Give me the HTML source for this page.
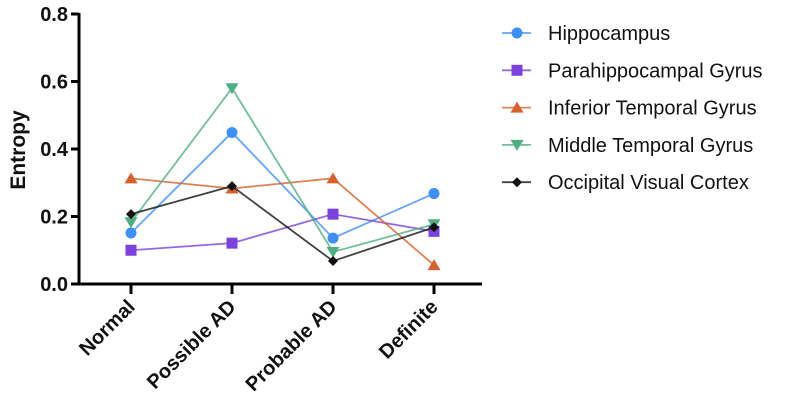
<!DOCTYPE html>
<html><head><meta charset="utf-8"><style>
body{margin:0;background:#fff;}
svg text{font-family:"Liberation Sans",Arial,sans-serif;}
</style></head><body>
<svg id="chart" width="786" height="404" viewBox="0 0 786 404"></svg>
<script>
const categories=["Normal","Possible AD","Probable AD","Definite"];
const yTicks=[0,0.2,0.4,0.6,0.8];
const seriesNames=["Hippocampus","Parahippocampal Gyrus","Inferior Temporal Gyrus","Middle Temporal Gyrus","Occipital Visual Cortex"];
const hippocampus=[0.151,0.449,0.136,0.268];
const parahippocampal=[0.100,0.121,0.207,0.156];
const inferiorTemporal=[0.313,0.283,0.313,0.056];
const middleTemporal=[0.183,0.580,0.095,0.177];
const occipitalVisual=[0.207,0.290,0.068,0.168];
const seriesValues=[hippocampus,parahippocampal,inferiorTemporal,middleTemporal,occipitalVisual];
const colors=["#3f8ff5","#7b42dc","#d5622c","#4fae82","#111111"];
const markers=["circle","square","up","down","diamond"];

const NS="http://www.w3.org/2000/svg";
const svg=document.getElementById("chart");
function mk(t,a,p){const e=document.createElementNS(NS,t);for(const k in a)e.setAttribute(k,a[k]);(p||svg).appendChild(e);return e;}
const x0=79,y0=284,yTop=14;
function yScale(v){return y0-(v/0.8)*(y0-yTop);}
function xScale(i){return 131+i*101;}

function marker(type,cx,cy,color,g){
  let e;
  if(type==="circle")e=mk("circle",{cx:cx,cy:cy,r:5.5,fill:color},g);
  else if(type==="square")e=mk("rect",{x:cx-5.5,y:cy-5.5,width:11,height:11,fill:color},g);
  else if(type==="up")e=mk("polygon",{points:`${cx},${cy-6} ${cx-6.5},${cy+5} ${cx+6.5},${cy+5}`,fill:color},g);
  else if(type==="down")e=mk("polygon",{points:`${cx},${cy+6} ${cx-6.5},${cy-5} ${cx+6.5},${cy-5}`,fill:color},g);
  else e=mk("polygon",{points:`${cx},${cy-5} ${cx+5},${cy} ${cx},${cy+5} ${cx-5},${cy}`,fill:color},g);
  return e;
}

const ax=mk("g",{});


const yl=mk("line",{x1:x0,y1:yTop-1,x2:x0,y2:y0+1.5,stroke:"#000","stroke-width":3},ax);


const xl=mk("line",{x1:x0-1.5,y1:y0,x2:482,y2:y0,stroke:"#000","stroke-width":3},ax);


yTicks.forEach(v=>{
  const y=yScale(v);
  const tk=mk("line",{x1:x0-8,y1:y,x2:x0,y2:y,stroke:"#000","stroke-width":3},ax);
  
  
  const t=mk("text",{x:x0-11,y:y+7,"text-anchor":"end","font-size":20,"font-weight":"bold",fill:"#111"},ax);
  t.textContent=v.toFixed(1);
  
  
});
categories.forEach((c,i)=>{
  const x=xScale(i);
  const tk=mk("line",{x1:x,y1:y0,x2:x,y2:y0+10,stroke:"#000","stroke-width":3},ax);
  
  
  const t=mk("text",{x:x+5,y:y0+24,"text-anchor":"end","font-size":20,"font-weight":"bold",fill:"#111",transform:`rotate(-45 ${x+5} ${y0+24})`},ax);
  t.textContent=c;
  
  
});
const yt=mk("text",{x:25,y:150,"text-anchor":"middle","font-size":21,"font-weight":"bold",fill:"#111",transform:"rotate(-90 25 150)"});
yt.textContent="Entropy";



seriesValues.forEach((vals,s)=>{
  const g=mk("g",{});
  
  
  const pl=mk("polyline",{points:vals.map((v,i)=>xScale(i)+","+yScale(v)).join(" "),fill:"none",stroke:colors[s],"stroke-width":1.8,"stroke-opacity":0.8},g);
  
  
  vals.forEach((v,i)=>{
    const m=marker(markers[s],xScale(i),yScale(v),colors[s],g);
    
    
  });
});

const lg=mk("g",{});


seriesNames.forEach((n,s)=>{
  const y=33+s*37.3;
  const e=mk("g",{},lg);
  
  
  mk("line",{x1:502,y1:y,x2:531,y2:y,stroke:colors[s],"stroke-width":1.8,"stroke-opacity":0.8},e);
  marker(markers[s],517,y,colors[s],e);
  const t=mk("text",{x:548,y:y+7,"font-size":20,fill:"#111"},e);
  t.textContent=n;
});
</script>
</body></html>
